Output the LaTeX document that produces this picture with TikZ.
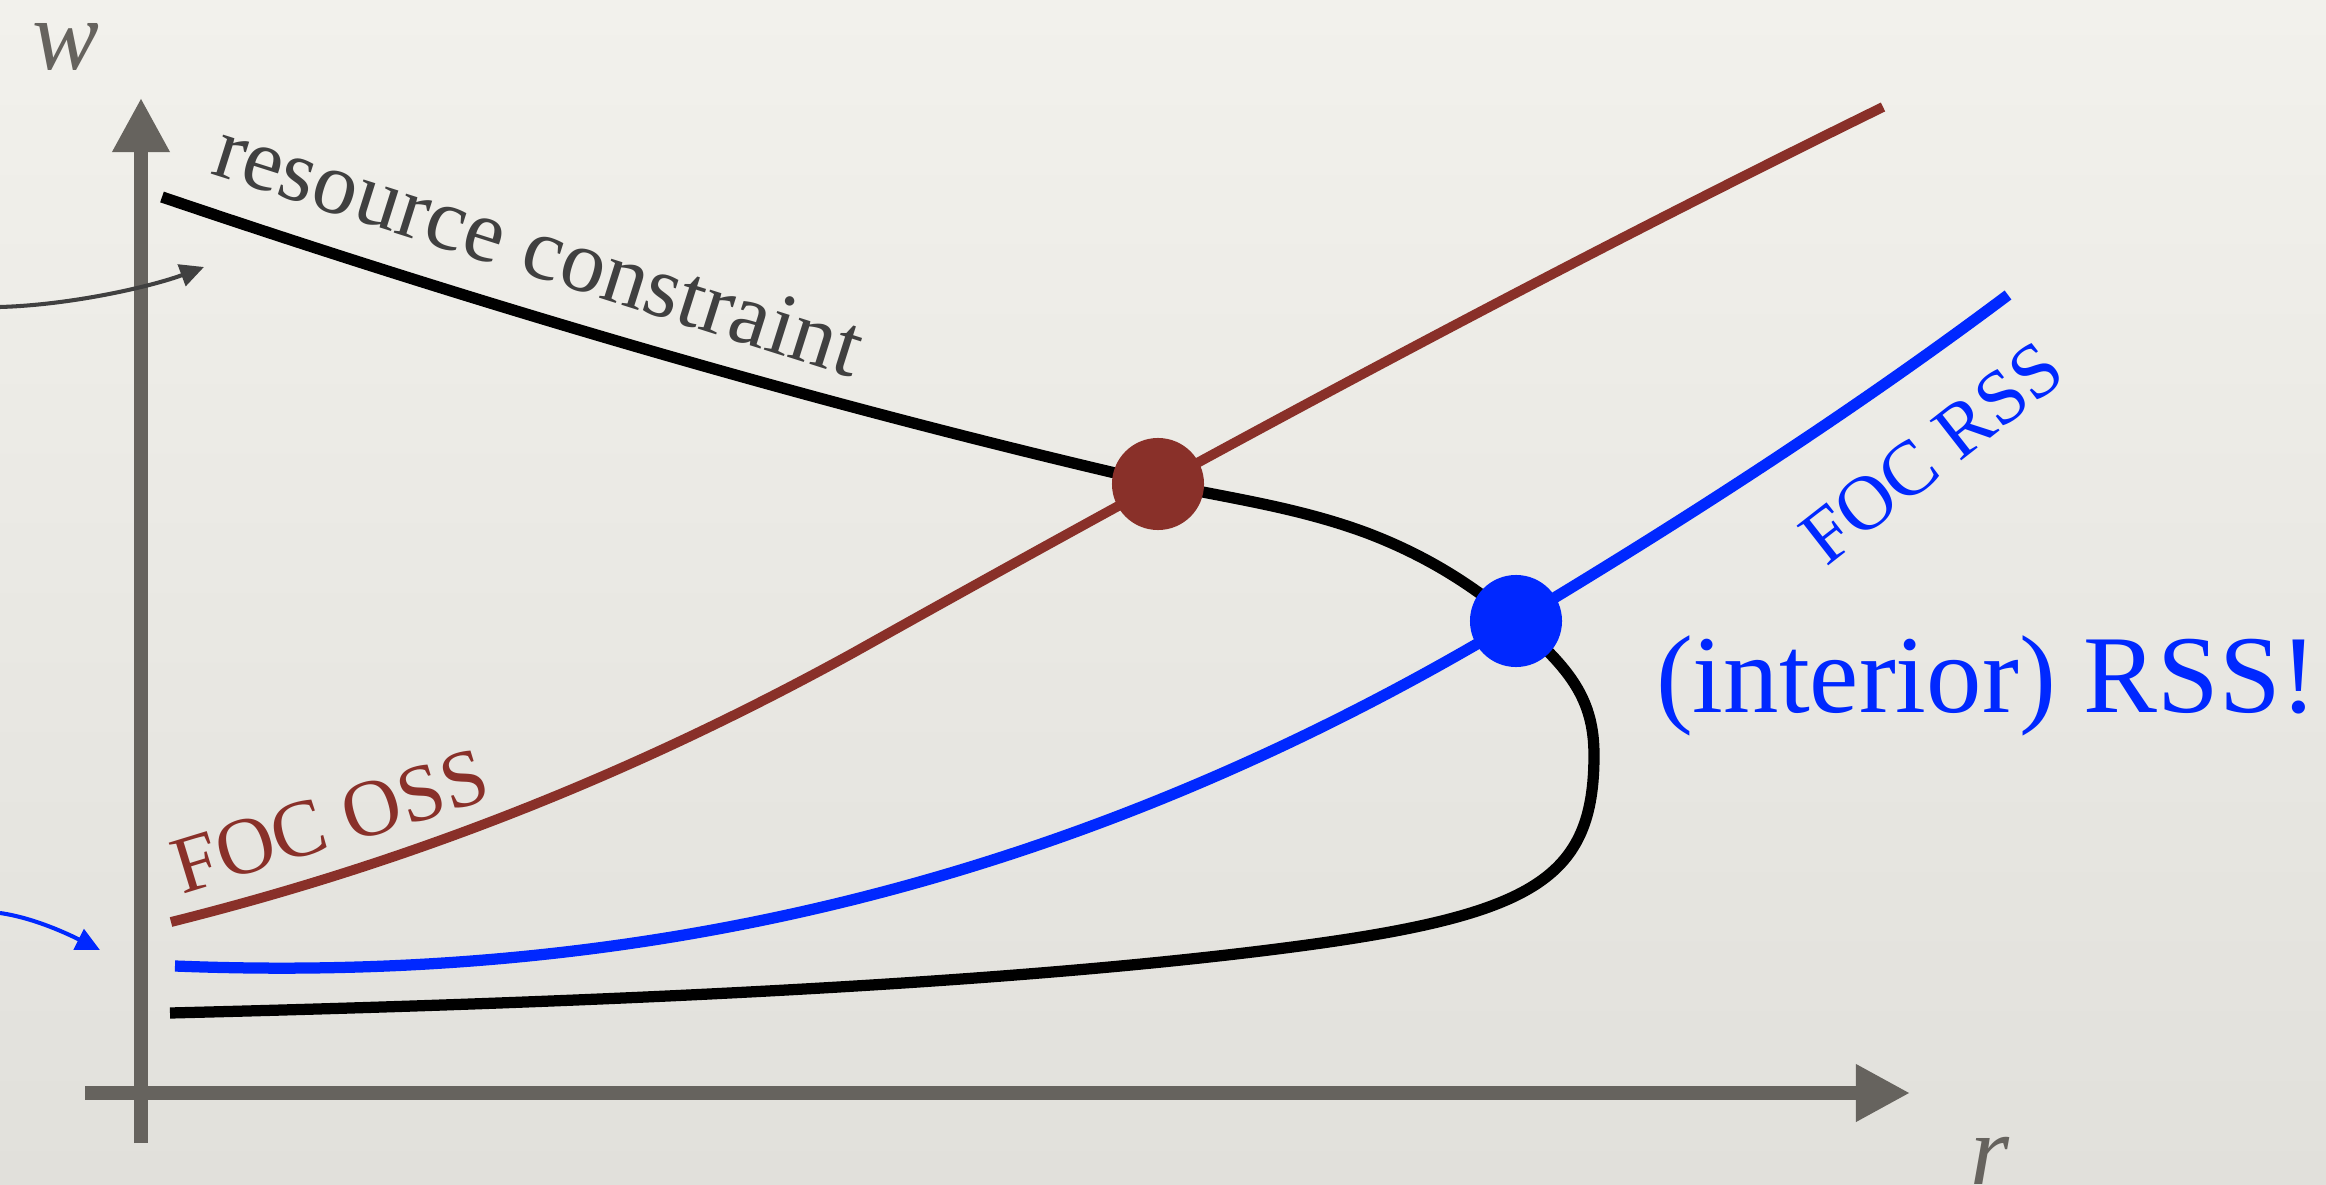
\documentclass[tikz,border=0pt]{standalone}
\usepackage{fontspec}
\setmainfont{Liberation Serif}
\usetikzlibrary{arrows.meta}
\definecolor{axisgrey}{RGB}{102,99,94}
\definecolor{txtgrey}{RGB}{64,64,64}
\definecolor{ossred}{RGB}{137,48,41}
\definecolor{rssblue}{RGB}{0,40,255}
\definecolor{bgtop}{RGB}{242,241,236}
\definecolor{bgbot}{RGB}{225,224,219}
\tikzset{
  axisline/.style={line width=3.7pt, color=axisgrey, line cap=butt,
    -{Triangle[length=15.4pt,width=15.4pt]}},
  curve/.style={line width=3.2pt, line cap=butt, line join=round},
  dotnode/.style={circle, inner sep=0pt, minimum size=0.92cm, draw=none},
  lbl/.style={inner sep=0pt, outer sep=0pt},
  axlbl/.style={lbl, text=axisgrey, text height=0.47em, text depth=0pt,
    font=\fontsize{28.5pt}{34pt}\selectfont\itshape},
  pointer/.style={line width=1.15pt, -{Triangle[length=6.8pt,width=6.4pt]}}
}
\begin{document}
\begin{tikzpicture}[x=0.01cm,y=-0.01cm]
\path[use as bounding box] (0,0) rectangle (2326,1185);
\shade[top color=bgtop, bottom color=bgbot] (0,0) rectangle (2326,1185);

% axes
\coordinate (vbot) at (141,1143);
\coordinate (vtop) at (141,98);
\coordinate (hleft) at (85,1093);
\coordinate (hright) at (1910,1093);
\draw[axisline] (vbot) -- (vtop);
\draw[axisline] (hleft) -- (hright);

% curves
\draw[curve, black] (162,197) .. controls (492,309) and (828,407) .. (1158,483)
  .. controls (1228,498) and (1297,507) .. (1367,533)
  .. controls (1417,552) and (1466,579) .. (1516,622)
  .. controls (1571,669) and (1594,700) .. (1594,755)
  .. controls (1594,878) and (1535,914.5) .. (1300,946)
  .. controls (1000,986) and (570,1003) .. (170,1013);
\draw[curve, ossred, line width=2.8pt] (171,922) .. controls (401,864.5) and (623,779.5) .. (853,653)
  .. controls (1193,462.6) and (1543,273.6) .. (1883,107);
\draw[curve, rssblue] (175,966) .. controls (625,984) and (1066,891) .. (1516,621)
  .. controls (1676,525) and (1848,415) .. (2008,295);

% equilibrium dots
\node[dotnode, fill=ossred] (oss) at (1158,484) {};
\node[dotnode, fill=rssblue] (rss) at (1516,621) {};

% pointer arrows entering from the left
\coordinate (gfrom) at (0,307);
\coordinate (gto) at (204,267);
\draw[pointer, txtgrey] (gfrom) .. controls (70,305) and (150,287) .. (gto);
\coordinate (bfrom) at (0,913);
\coordinate (bto) at (100,950);
\draw[pointer, rssblue] (bfrom) .. controls (35,918) and (70,935) .. (bto);

% labels
\node[axlbl, anchor=base west] (wlab) at (32,70) {w};
\node[axlbl, anchor=base west] (rlab) at (1970,1184) {r};
\node[lbl, anchor=base west, rotate=-17.6, text=txtgrey, font=\fontsize{25.3pt}{30pt}\selectfont]
  (rclab) at (209,174) {resource constraint};
\node[lbl, anchor=base west, rotate=17, text=ossred, font=\fontsize{23pt}{27pt}\selectfont]
  (osslab) at (182,894) {FOC OSS};
\node[lbl, anchor=base west, rotate=38, text=rssblue, font=\fontsize{22pt}{26pt}\selectfont]
  (rsslab) at (1826,567) {FOC RSS};
\node[lbl, anchor=base west, text=rssblue, font=\fontsize{31.5pt}{37pt}\selectfont]
  (intlab) at (1656,712) {(interior) RSS!};
\end{tikzpicture}
\end{document}
